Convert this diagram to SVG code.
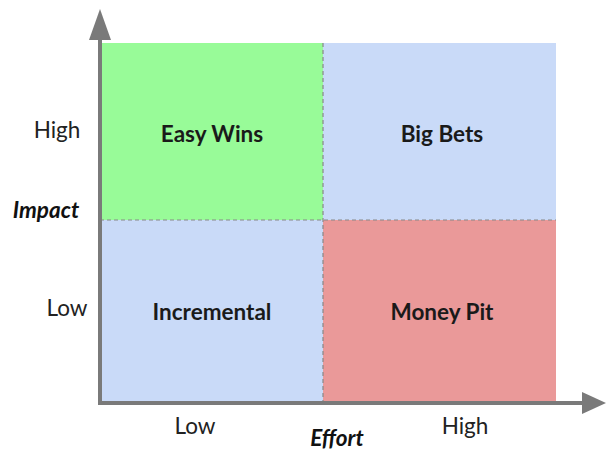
<svg xmlns="http://www.w3.org/2000/svg" width="606" height="450" viewBox="0 0 606 450">
<style>
.q{stroke:none}
.lbl{font-family:Lato,"Noto Sans",sans-serif;font-size:22.5px;font-weight:bold;fill:#1a1a1a;text-anchor:middle}
.tick{font-family:Lato,"Noto Sans",sans-serif;font-size:22.5px;fill:#222;text-anchor:middle}
.ax{font-family:Lato,"Noto Sans",sans-serif;font-size:22.5px;font-weight:bold;font-style:italic;fill:#111;text-anchor:middle}
.dash{stroke:#888;stroke-width:1.2;stroke-dasharray:4 3;fill:none}
.axis{stroke:#7a7a7a;stroke-width:4;fill:none}
</style>
<g id="easy-wins"><rect class="q" x="100" y="43" width="223" height="177" fill="#98fb98"/><text class="lbl" x="212" y="142">Easy Wins</text></g>
<g id="big-bets"><rect class="q" x="323" y="43" width="233" height="177" fill="#c9daf8"/><text class="lbl" x="442" y="142">Big Bets</text></g>
<g id="incremental"><rect class="q" x="100" y="220" width="223" height="183" fill="#c9daf8"/><text class="lbl" x="212" y="320">Incremental</text></g>
<g id="money-pit"><rect class="q" x="323" y="220" width="233" height="183" fill="#ea9999"/><text class="lbl" x="442" y="320">Money Pit</text></g>
<g id="connectors">
<line class="dash" x1="323" y1="43" x2="323" y2="403"/>
<line class="dash" x1="100" y1="220" x2="556" y2="220"/>
<line class="axis" x1="100" y1="40" x2="100" y2="403"/>
<line class="axis" x1="98" y1="403" x2="583" y2="403"/>
<polygon points="100,9 111,40 89,40" fill="#7a7a7a"/>
<polygon points="606,403 582,392 582,414" fill="#7a7a7a"/>
</g>
<g id="labels">
<text class="tick" x="57" y="138">High</text>
<text class="ax" x="46" y="218">Impact</text>
<text class="tick" x="67" y="316">Low</text>
<text class="tick" x="195" y="434">Low</text>
<text class="ax" x="337" y="446">Effort</text>
<text class="tick" x="465" y="434">High</text>
</g>
</svg>
